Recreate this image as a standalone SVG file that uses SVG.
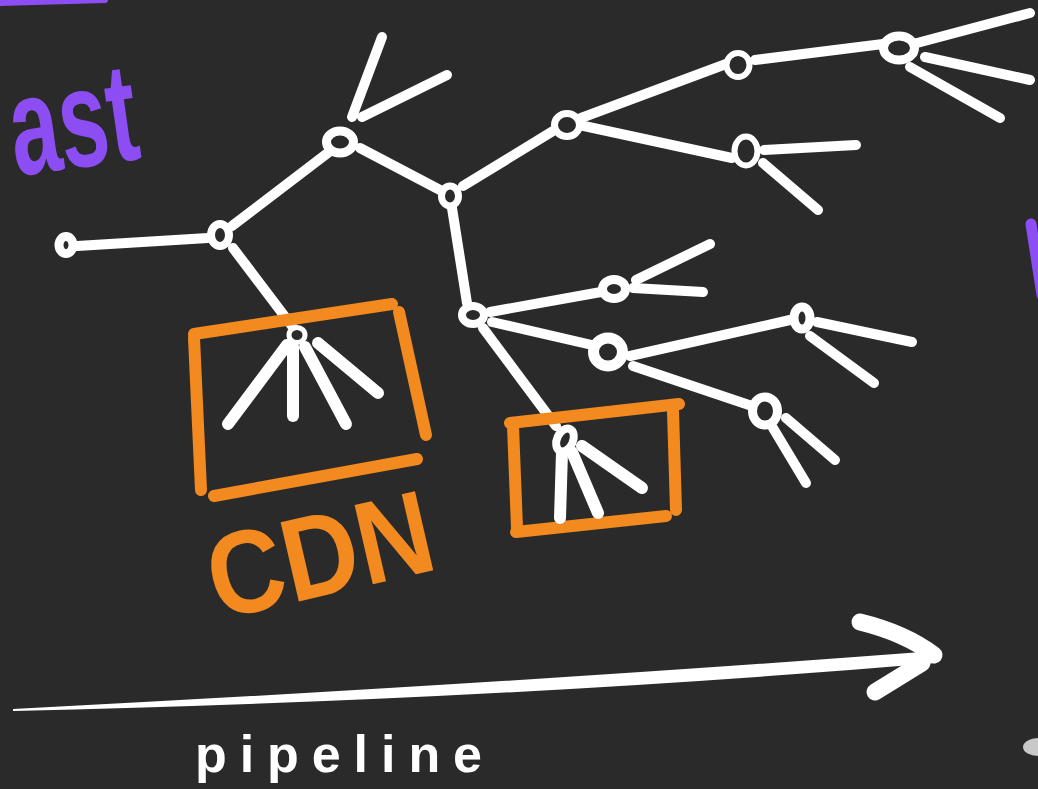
<svg xmlns="http://www.w3.org/2000/svg" width="1038" height="789" viewBox="0 0 1038 789">
<style>
.e{stroke:#fff;stroke-width:10;stroke-linecap:round;fill:none}
.s{stroke:#fff;stroke-width:12;stroke-linecap:round;fill:none}
.ring{fill:#2a2a2a;stroke:#fff}
.o{stroke:#f28a1f;stroke-width:12;stroke-linecap:round;fill:none}
.pu{stroke:#8c4ef2;stroke-linecap:round;fill:none}
.t{font-family:"Liberation Sans",Arial,sans-serif;font-weight:bold}
</style>
<rect width="1038" height="789" fill="#2a2a2a"/>

<g id="decor">
  <path class="pu" d="M0 3 L105 0" stroke-width="6"/>
  <path class="pu" d="M1031 224 L1042 295" stroke-width="11"/>
  <ellipse cx="1038" cy="747" rx="15" ry="9" fill="#c9c9c9"/>
  <text class="t" x="0" y="0" fill="#8c4ef2" font-size="140" textLength="128" lengthAdjust="spacingAndGlyphs" transform="translate(16 176) rotate(-8)">ast</text>
</g>

<g id="connectors">
  <path class="e" d="M77 246 L208 238"/>
  <path class="e" d="M232 226 L329 152"/>
  <path class="e" d="M233 248 L292 326"/>
  <path class="e" d="M352 117 L382 37"/>
  <path class="e" d="M362 117 L447 75"/>
  <path class="e" d="M360 148 L440 190"/>
  <path class="e" d="M463 186 L553 131"/>
  <path class="e" d="M452 208 L467 303"/>
  <path class="e" d="M581 118 L726 64"/>
  <path class="e" d="M584 126 L732 158"/>
  <path class="e" d="M755 60 L883 44"/>
  <path class="e" d="M917 43 L1030 13"/>
  <path class="e" d="M925 57 L1030 80"/>
  <path class="e" d="M910 67 L1000 118"/>
  <path class="e" d="M764 150 L856 145"/>
  <path class="e" d="M763 163 L818 210"/>
  <path class="e" d="M490 312 L601 292"/>
  <path class="e" d="M636 280 L710 244"/>
  <path class="e" d="M633 288 L703 292"/>
  <path class="e" d="M492 322 L592 345"/>
  <path class="e" d="M630 356 L790 320"/>
  <path class="e" d="M633 366 L752 406"/>
  <path class="e" d="M817 322 L912 342"/>
  <path class="e" d="M810 336 L874 383"/>
  <path class="e" d="M786 418 L835 460"/>
  <path class="e" d="M773 428 L806 483"/>
  <path class="e" d="M483 328 L556 426"/>
</g>

<g id="cdn-box">
  <path class="o" d="M194 334 L392 304"/>
  <path class="o" d="M194 338 L201 490"/>
  <path class="o" d="M399 312 L426 435"/>
  <path class="o" d="M214 496 L417 459"/>
  <path class="s" d="M287 345 L228 424"/>
  <path class="s" d="M293 347 L293 416"/>
  <path class="s" d="M305 347 L346 424"/>
  <path class="s" d="M318 343 L378 393"/>
  <text class="t" x="0" y="0" font-size="118" fill="#f28a1f" textLength="228" lengthAdjust="spacingAndGlyphs" transform="translate(218 620) rotate(-13)">CDN</text>
</g>

<g id="edge-box">
  <path class="o" d="M510 423 L679 404"/>
  <path class="o" d="M513 426 L517 528"/>
  <path class="o" d="M673 411 L676 510"/>
  <path class="o" d="M516 532 L666 516"/>
  <path class="s" d="M562 452 L560 518"/>
  <path class="s" d="M572 452 L598 513"/>
  <path class="s" d="M582 446 L642 488"/>
</g>

<g id="n0"><ellipse class="ring" cx="66" cy="245" rx="7" ry="8.5" stroke-width="9"/></g>
<g id="n1"><ellipse class="ring" cx="220" cy="235" rx="9" ry="11" stroke-width="8"/></g>
<g id="n2"><ellipse class="ring" cx="340" cy="142" rx="13.5" ry="11" stroke-width="9"/></g>
<g id="n3"><ellipse class="ring" cx="450" cy="196" rx="8.5" ry="10" stroke-width="7"/></g>
<g id="n4"><ellipse class="ring" cx="567" cy="125" rx="12.5" ry="11.5" stroke-width="7"/></g>
<g id="n5"><ellipse class="ring" cx="738" cy="65" rx="11.5" ry="12" stroke-width="6"/></g>
<g id="n6"><ellipse class="ring" cx="899" cy="48" rx="15.5" ry="12" stroke-width="9"/></g>
<g id="n7"><ellipse class="ring" cx="746" cy="151" rx="11.5" ry="14.5" stroke-width="6"/></g>
<g id="n8"><ellipse class="ring" cx="473" cy="315" rx="11" ry="9" stroke-width="8"/></g>
<g id="n9"><ellipse class="ring" cx="614" cy="289" rx="11.5" ry="9.5" stroke-width="9"/></g>
<g id="n10"><ellipse class="ring" cx="608" cy="352" rx="14.5" ry="14" stroke-width="11"/></g>
<g id="n11"><ellipse class="ring" cx="802" cy="318" rx="8" ry="11" stroke-width="9"/></g>
<g id="n12"><ellipse class="ring" cx="765" cy="411" rx="12.5" ry="14" stroke-width="9"/></g>
<g id="n13"><ellipse class="ring" cx="297" cy="335" rx="8" ry="7.5" stroke-width="5"/></g>
<g id="n14"><ellipse class="ring" cx="565" cy="440" rx="8" ry="12" stroke-width="8" transform="rotate(25 565 440)"/></g>

<g id="pipeline">
  <path d="M13 709 Q500 684 935 651 L936 663 Q500 700 13 711 Z" fill="#fff"/>
  <circle cx="934" cy="657" r="6" fill="#fff"/>
  <path d="M860 622 Q905 633 934 655" stroke="#fff" stroke-width="17" stroke-linecap="round" fill="none"/>
  <path d="M875 692 L922 663" stroke="#fff" stroke-width="17" stroke-linecap="round" fill="none"/>
  <text class="t" x="195" y="772" font-size="52" fill="#fff" textLength="287" lengthAdjust="spacing">pipeline</text>
</g>
</svg>
